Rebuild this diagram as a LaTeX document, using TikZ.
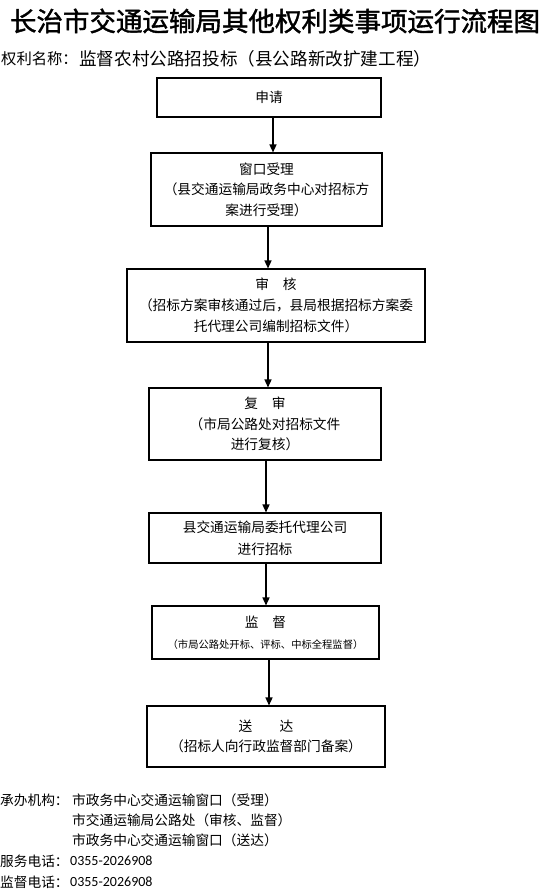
\documentclass[tikz,border=0pt]{standalone}
\usepackage{graphicx}
\usepackage{fontspec}
\setmainfont{Noto Sans CJK SC}
\newfontfamily\numfont{Carlito}
\newfontfamily\titlefont[FakeBold=1.5]{Noto Sans CJK SC}
\usetikzlibrary{arrows.meta}
\begin{document}
\begin{tikzpicture}[x=1pt,y=-1pt,
 box/.style={draw, line width=1.1pt, align=center, inner sep=0pt, font=\fontsize{13.7}{20.5}\selectfont},
 arr/.style={line width=1.4pt, -{Triangle[length=8pt,width=7pt]}},
 lbl/.style={anchor=west, inner sep=0pt, font=\fontsize{13.7}{16}\selectfont}]
\useasboundingbox (0,0) rectangle (554,894);
\node[inner sep=0pt] (title) at (275,21) {\resizebox{530pt}{!}{\fontsize{29}{30}\titlefont 长治市交通运输局其他权利类事项运行流程图}};
\node[lbl, font=\fontsize{15.3}{17}\selectfont] (rn) at (1,59) {权利名称：};
\node[lbl, font=\fontsize{17.6}{19}\selectfont] (rv) at (79,59) {监督农村公路招投标（县公路新改扩建工程）};

\node[box, minimum width=224pt, minimum height=39pt] (b1) at (269,97.5) {申请};
\node[box, minimum width=231pt, minimum height=73pt] (b2) at (266.5,189.5) {窗口受理\\（县交通运输局政务中心对招标方\\案进行受理）};
\node[box, minimum width=298pt, minimum height=73pt, font=\fontsize{13.7}{21}\selectfont] (b3) at (276,305.5) {审　核\\（招标方案审核通过后，县局根据招标方案委\\托代理公司编制招标文件）};
\node[box, minimum width=232pt, minimum height=72pt] (b4) at (265,424) {复　审\\（市局公路处对招标文件\\进行复核）};
\node[box, minimum width=232pt, minimum height=50pt, font=\fontsize{13.7}{22}\selectfont] (b5) at (265,538) {县交通运输局委托代理公司\\进行招标};
\node[box, minimum width=227pt, minimum height=53pt, font=\fontsize{13.7}{21}\selectfont] (b6) at (265.5,632.5) {监　督\\{\fontsize{10.3}{12}\selectfont（市局公路处开标、评标、中标全程监督）}};
\node[box, minimum width=238pt, minimum height=61pt] (b7) at (266,736.5) {送　　达\\（招标人向行政监督部门备案）};

\draw[arr] (b1.south -| 273,0) -- (b2.north -| 273,0);
\draw[arr] (b2.south -| 268,0) -- (b3.north -| 268,0);
\draw[arr] (b3.south -| 268,0) -- (b4.north -| 268,0);
\draw[arr] (b4.south -| 266,0) -- (b5.north -| 266,0);
\draw[arr] (b5.south -| 266,0) -- (b6.north -| 266,0);
\draw[arr] (b6.south -| 269,0) -- (b7.north -| 269,0);

\node[lbl] (cb) at (0,800) {承办机构：};
\node[lbl] (cb1) at (72,800) {市政务中心交通运输窗口（受理）};
\node[lbl] (cb2) at (72,820) {市交通运输局公路处（审核、监督）};
\node[lbl] (cb3) at (72,840) {市政务中心交通运输窗口（送达）};
\node[lbl] (fw) at (0,861) {服务电话：};
\node[lbl, font=\fontsize{14}{16}\numfont] (fwn) at (70,861) {0355-2026908};
\node[lbl] (jd) at (0,882) {监督电话：};
\node[lbl, font=\fontsize{14}{16}\numfont] (jdn) at (70,882) {0355-2026908};
\end{tikzpicture}
\end{document}
